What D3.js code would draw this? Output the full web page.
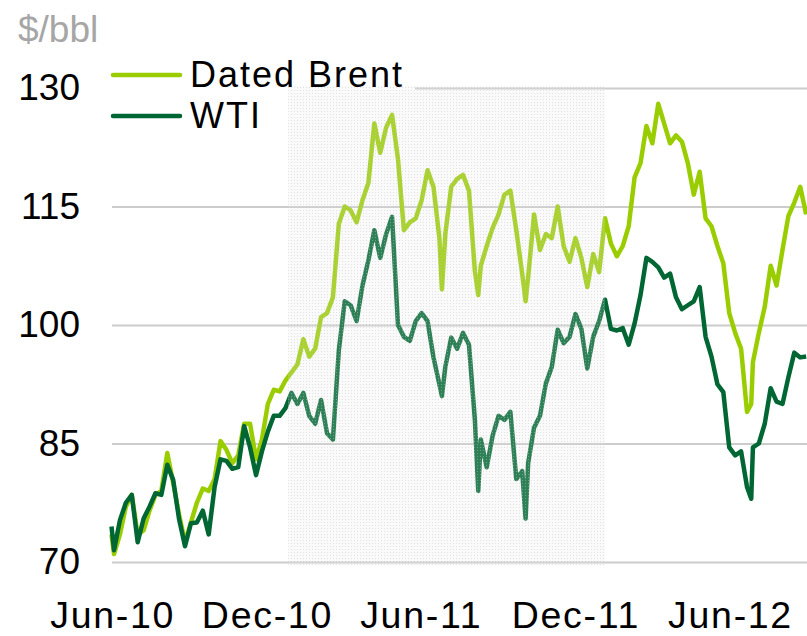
<!DOCTYPE html>
<html>
<head>
<meta charset="utf-8">
<script src="https://cdn.jsdelivr.net/npm/d3@7"></script>
<style>
    body { margin: 0; background: #ffffff; }
    svg { display: block; font-family: "Liberation Sans", Arial, sans-serif; }
</style>
</head>
<body>
<div id="lineGraph"></div>
<script>
// weekly readings (Fridays) plus a few extra days where the price spikes
var dates = [
    "2010-06-01",
    "2010-06-04", "2010-06-11", "2010-06-18", "2010-06-25",
    "2010-07-02", "2010-07-09", "2010-07-16", "2010-07-23", "2010-07-30",
    "2010-08-06", "2010-08-13", "2010-08-20", "2010-08-27",
    "2010-09-03", "2010-09-10", "2010-09-17", "2010-09-24",
    "2010-10-01", "2010-10-08", "2010-10-15", "2010-10-22", "2010-10-29",
    "2010-11-05", "2010-11-12", "2010-11-19", "2010-11-26",
    "2010-12-03", "2010-12-10", "2010-12-17", "2010-12-24", "2010-12-31",
    "2011-01-07", "2011-01-14", "2011-01-21", "2011-01-28",
    "2011-02-04", "2011-02-11", "2011-02-18", "2011-02-25",
    "2011-03-04", "2011-03-11", "2011-03-18", "2011-03-25",
    "2011-04-01", "2011-04-08", "2011-04-15", "2011-04-22", "2011-04-29",
    "2011-05-06", "2011-05-13", "2011-05-20", "2011-05-27",
    "2011-06-03", "2011-06-10", "2011-06-17", "2011-06-24", "2011-06-27",
    "2011-07-01", "2011-07-08", "2011-07-15", "2011-07-22", "2011-07-29",
    "2011-08-05", "2011-08-09", "2011-08-12", "2011-08-19", "2011-08-26",
    "2011-09-02", "2011-09-09", "2011-09-16", "2011-09-23", "2011-09-30", "2011-10-04",
    "2011-10-07", "2011-10-14", "2011-10-21", "2011-10-28",
    "2011-11-04", "2011-11-11", "2011-11-18", "2011-11-25",
    "2011-12-02", "2011-12-09", "2011-12-16", "2011-12-23", "2011-12-30",
    "2012-01-06", "2012-01-13", "2012-01-20", "2012-01-27",
    "2012-02-03", "2012-02-10", "2012-02-17", "2012-02-24",
    "2012-03-02", "2012-03-09", "2012-03-16", "2012-03-23", "2012-03-30",
    "2012-04-06", "2012-04-13", "2012-04-20", "2012-04-27",
    "2012-05-04", "2012-05-11", "2012-05-18", "2012-05-25",
    "2012-06-01", "2012-06-08", "2012-06-15", "2012-06-22", "2012-06-27", "2012-06-29",
    "2012-07-06", "2012-07-13", "2012-07-20", "2012-07-27",
    "2012-08-03", "2012-08-10", "2012-08-17", "2012-08-24", "2012-08-31"
];

var brentValues = [
    73.5,
    71.0, 73.5, 77.0, 78.5,
    73.5, 74.0, 76.5, 78.5, 79.0,
    83.8, 80.0, 76.0, 72.5,
    75.0, 77.5, 79.3, 79.0,
    80.5, 85.3, 84.2, 82.5, 83.5,
    87.5, 87.5, 83.0, 85.5,
    90.0, 91.8, 91.6, 93.0, 94.0,
    95.0, 98.2, 96.0, 97.0,
    101.0, 101.5, 103.5, 112.8,
    115.0, 114.5, 113.0, 115.8,
    118.0, 125.5, 121.8, 125.0, 126.6,
    121.0, 112.0, 113.0, 113.5,
    115.8, 119.6, 117.5, 111.0, 104.5,
    111.5, 117.5, 118.5, 119.0, 117.0,
    106.8, 103.8, 107.5, 110.0, 112.3,
    114.0, 116.5, 117.0, 112.0, 106.5, 103.0,
    106.0, 114.0, 109.5, 111.5,
    111.0, 115.0, 110.0, 108.0,
    111.0, 108.5, 104.8, 109.0, 106.7,
    113.5, 110.3, 108.7, 110.0,
    112.5, 118.7, 120.5, 125.2,
    123.0, 128.0, 125.5, 123.0, 124.0,
    123.2, 120.5, 116.5, 119.4,
    113.5, 112.5, 110.0, 107.8,
    101.5, 99.0, 97.0, 89.0, 90.0, 95.3,
    99.0, 102.3, 107.5, 105.0,
    109.5, 113.8, 115.5, 117.5, 114.0
];

var wtiValues = [
    74.5,
    71.5, 75.3, 77.5, 78.5,
    72.5, 75.5, 77.0, 78.7, 78.5,
    82.3, 80.4, 75.4, 72.0,
    74.9, 75.0, 76.5, 73.5,
    79.5, 83.0, 82.8, 81.8, 82.0,
    87.2, 84.5, 81.0, 84.0,
    86.5, 88.5, 88.5, 89.5, 91.4,
    90.0, 91.4, 88.5, 87.5,
    90.5, 86.3, 85.5, 96.8,
    103.0, 102.5, 100.5, 105.0,
    108.2, 112.0, 108.5, 111.5, 113.7,
    100.0, 98.5, 98.0, 100.5,
    101.5, 100.5, 95.9, 92.5, 91.0,
    94.7, 98.4, 97.0, 99.0, 97.5,
    88.0, 79.0, 85.5, 82.0, 86.0,
    88.5, 88.0, 89.0, 80.5, 81.5, 75.5,
    82.5, 87.0, 88.5, 92.6,
    94.7, 99.4, 97.7, 98.5,
    101.4, 99.5, 94.5, 98.5, 100.5,
    103.2, 99.5, 99.3, 99.6,
    97.5, 100.2, 103.8, 108.5,
    108.0, 107.3, 106.0, 106.5, 103.5,
    102.0, 102.5, 103.0, 104.8,
    98.5, 96.0, 92.5, 91.5,
    84.5, 83.5, 84.0, 79.5, 78.0, 84.5,
    85.0, 87.5, 92.0, 90.3,
    90.0, 93.4, 96.5, 95.9, 96.0
];

var seriesNames = ["Dated Brent", "WTI"];
var yTicks = [70, 85, 100, 115, 130];
var xTickDates = ["2010-06-01", "2010-12-01", "2011-06-01", "2011-12-01", "2012-06-01"];
var xTickLabels = ["Jun-10", "Dec-10", "Jun-11", "Dec-11", "Jun-12"];
var shadeDates = ["2010-12-27", "2012-01-06"];           // shaded period
var unitLabel = "$/bbl";

var brentColor = "#9acd00";
var wtiColor = "#006633";

function lineChart() {
    var w = 807;
    var h = 636;
    var left = 112;

    var parseTime = d3.timeParse("%Y-%m-%d");

    var xScale = d3.scaleTime()
                .domain([parseTime("2010-06-01"), parseTime("2012-09-01")])
                .range([111.5, w]);

    var yScale = d3.scaleLinear()
                .domain([70, 130])
                .range([562, 88]);

    var svg = d3.select("#lineGraph")
                .append("svg")
                .attr("width", w)
                .attr("height", h);

    // light dotted screen for the shaded period, drawn over the lines
    var pattern = svg.append("defs")
        .append("pattern")
        .attr("id", "dots")
        .attr("patternUnits", "userSpaceOnUse")
        .attr("width", 3)
        .attr("height", 3);
    pattern.append("rect")
        .attr("width", 3)
        .attr("height", 3)
        .attr("fill", "#e4e4e4")
        .attr("fill-opacity", 0.2);
    pattern.append("rect")
        .attr("width", 1)
        .attr("height", 1)
        .attr("fill", "#c4c4c4")
        .attr("fill-opacity", 0.45);

    // y axis with gridlines
    var yAxis = d3.axisLeft()
                .scale(yScale)
                .tickValues(yTicks)
                .tickSize(-(w - left))
                .tickPadding(left - 80);

    var gy = svg.append("g")
        .attr("transform", "translate(" + left + ", 0)")
        .call(yAxis);
    gy.select(".domain").remove();
    gy.selectAll("line")
        .attr("stroke", "#cccccc")
        .attr("stroke-width", 2);
    gy.selectAll("text")
        .attr("fill", "#000000")
        .style("font-size", "37px");

    svg.append("text")
        .attr("x", 18)
        .attr("y", 42)
        .attr("fill", "#a6a6a6")
        .style("font-size", "37px")
        .text(unitLabel);

    // x axis, labels only
    var xAxis = d3.axisBottom()
                .scale(xScale)
                .tickValues(xTickDates.map(parseTime))
                .tickFormat(function(d, i) { return xTickLabels[i]; })
                .tickSize(0);

    var gx = svg.append("g")
        .attr("transform", "translate(0, 628)")
        .call(xAxis);
    gx.select(".domain").remove();
    gx.selectAll("text")
        .attr("y", 0)
        .attr("dy", 0)
        .attr("dx", "0.75px")
        .attr("fill", "#000000")
        .style("font-size", "37.5px")
        .style("letter-spacing", "1.7px");

    var line = d3.line()
                .x(function(d, i) { return xScale(parseTime(dates[i])); })
                .y(function(d) { return yScale(d); });

    svg.append("path")
        .datum(brentValues)
        .attr("class", "line")
        .attr("d", line)
        .attr("fill", "none")
        .attr("stroke", brentColor)
        .attr("stroke-width", 4.5)
        .attr("stroke-linejoin", "round");

    svg.append("path")
        .datum(wtiValues)
        .attr("class", "secondline")
        .attr("d", line)
        .attr("fill", "none")
        .attr("stroke", wtiColor)
        .attr("stroke-width", 4.5)
        .attr("stroke-linejoin", "round");

    // legend box hides the top gridline
    svg.append("rect")
        .attr("x", 100)
        .attr("y", 50)
        .attr("width", 315)
        .attr("height", 40)
        .attr("fill", "#ffffff");

    svg.append("rect")
        .attr("x", xScale(parseTime(shadeDates[0])))
        .attr("y", yScale(130) - 2)
        .attr("width", xScale(parseTime(shadeDates[1])) - xScale(parseTime(shadeDates[0])))
        .attr("height", yScale(70) - yScale(130) + 5)
        .attr("fill", "url(#dots)");

    var legend = svg.append("g")
        .selectAll("g")
        .data(seriesNames)
        .enter()
        .append("g")
        .attr("transform", function(d, i) { return "translate(113, " + (75 + i * 41) + ")"; });

    legend.append("line")
        .attr("x1", 0)
        .attr("x2", 67)
        .attr("stroke", function(d, i) { return i == 0 ? brentColor : wtiColor; })
        .attr("stroke-width", 4.5)
        .attr("stroke-linecap", "round");

    legend.append("text")
        .attr("x", 77)
        .attr("y", 12)
        .attr("fill", "#000000")
        .style("font-size", "36px")
        .style("letter-spacing", "2px")
        .text(function(d) { return d; });
}

lineChart();
</script>
</body>
</html>
